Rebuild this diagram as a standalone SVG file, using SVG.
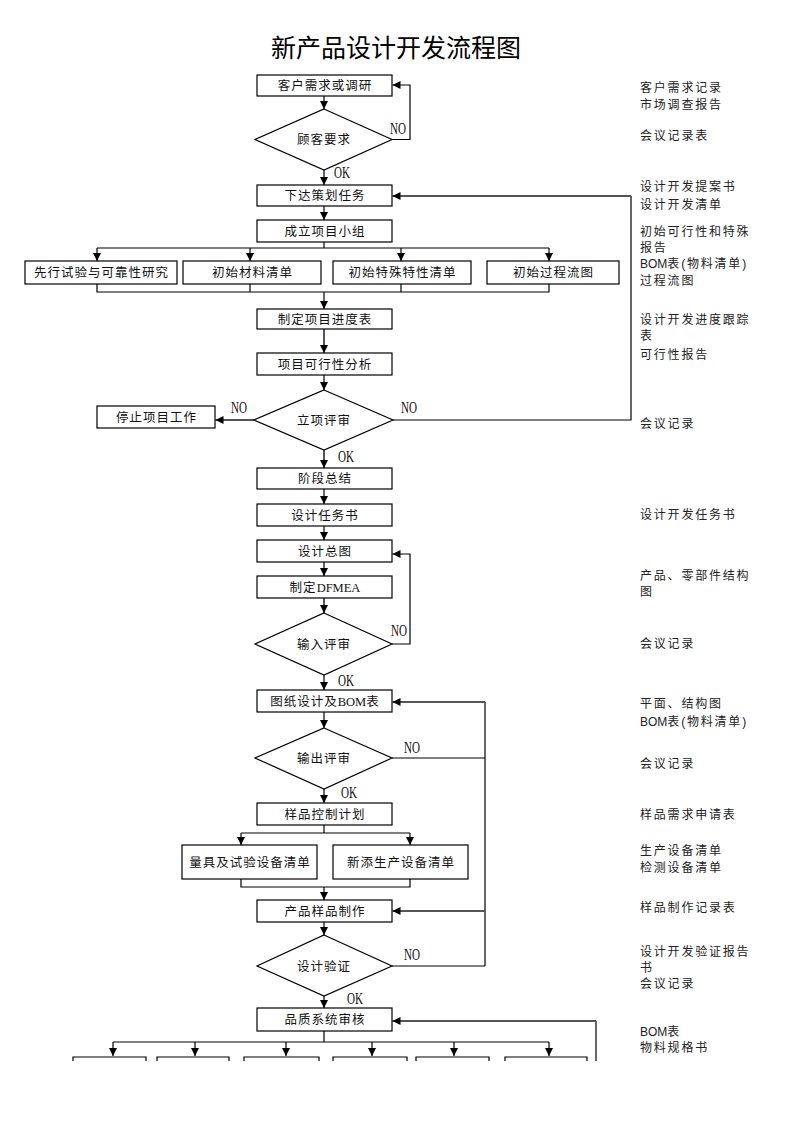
<svg xmlns="http://www.w3.org/2000/svg" width="793" height="1122" viewBox="0 0 793 1122">
<defs>
<marker id="ah" markerUnits="userSpaceOnUse" markerWidth="9" markerHeight="8" refX="8" refY="4" orient="auto">
<path d="M0,0 L8,4 L0,8 z" fill="#000"/>
</marker>
<style>
.box{fill:#fff;stroke:#000;stroke-width:1.2}
.dia{fill:#fff;stroke:#000;stroke-width:1.2}
.ln{fill:none;stroke:#000;stroke-width:1.2}
.lg{fill:none;stroke:#555;stroke-width:2}
.ar{marker-end:url(#ah)}
.t{font-family:"Noto Sans CJK SC","Liberation Serif",sans-serif;font-size:12.5px;text-anchor:middle;fill:#111;letter-spacing:1px}
.lat{font-family:"Liberation Serif",serif;letter-spacing:0}
.lab{font-family:"Liberation Serif",serif;font-size:17px;fill:#111}
.r{font-family:"Liberation Sans","Noto Sans CJK SC",sans-serif;font-size:12px;fill:#222;letter-spacing:1.8px}
.b{letter-spacing:0}
.title{font-family:"Noto Sans CJK SC",sans-serif;font-size:25px;text-anchor:middle;fill:#000}
</style>
</defs>
<rect width="793" height="1122" fill="#fff"/>
<text class="title" x="396" y="57">新产品设计开发流程图</text>

<g id="connectors">
<line class="ln ar" x1="324" y1="96" x2="324" y2="109"/>
<polyline class="ln ar" points="392,139.5 410,139.5 410,85 392.5,85"/>
<line class="ln ar" x1="324" y1="170" x2="324" y2="185"/>
<line class="ln ar" x1="324" y1="206" x2="324" y2="220"/>
<line class="ln" x1="324" y1="242" x2="324" y2="248"/>
<line class="ln" x1="97" y1="248" x2="549" y2="248"/>
<line class="ln ar" x1="97" y1="248" x2="97" y2="261"/>
<line class="ln ar" x1="250" y1="248" x2="250" y2="261"/>
<line class="ln ar" x1="401" y1="248" x2="401" y2="261"/>
<line class="ln ar" x1="549" y1="248" x2="549" y2="261"/>
<polyline class="ln" points="97,284 97,292 549,292 549,284"/>
<line class="ln" x1="250" y1="284" x2="250" y2="292"/>
<line class="ln" x1="401" y1="284" x2="401" y2="292"/>
<line class="ln ar" x1="324" y1="292" x2="324" y2="309"/>
<line class="lg ar" x1="324" y1="329" x2="324" y2="353"/>
<line class="ln ar" x1="324" y1="375" x2="324" y2="390"/>
<line class="lg ar" x1="254" y1="420" x2="215.5" y2="420"/>
<polyline class="ln" points="393,420 631,420 631,196"/>
<line class="lg ar" x1="631" y1="196" x2="392.5" y2="196"/>
<line class="lg ar" x1="324" y1="450" x2="324" y2="468"/>
<line class="ln ar" x1="324" y1="489" x2="324" y2="504"/>
<line class="ln ar" x1="324" y1="526" x2="324" y2="540"/>
<line class="ln ar" x1="324" y1="562" x2="324" y2="576"/>
<line class="lg ar" x1="324" y1="598" x2="324" y2="613"/>
<polyline class="ln ar" points="392,644 410,644 410,554 392.5,554"/>
<line class="ln ar" x1="324" y1="675" x2="324" y2="690"/>
<line class="ln ar" x1="324" y1="712" x2="324" y2="728"/>
<line class="ln" x1="392" y1="758" x2="485" y2="758"/>
<line class="ln" x1="485" y1="702" x2="485" y2="966"/>
<line class="lg ar" x1="485" y1="702" x2="392.5" y2="702"/>
<line class="lg ar" x1="485" y1="911" x2="392.5" y2="911"/>
<line class="ln" x1="392" y1="966" x2="485" y2="966"/>
<line class="ln ar" x1="324" y1="789" x2="324" y2="803"/>
<line class="ln" x1="324" y1="825" x2="324" y2="833"/>
<line class="ln" x1="241" y1="833" x2="410" y2="833"/>
<line class="ln ar" x1="241" y1="833" x2="241" y2="845"/>
<line class="ln ar" x1="410" y1="833" x2="410" y2="845"/>
<polyline class="ln" points="241,879 241,887 410,887 410,879"/>
<line class="ln ar" x1="324" y1="887" x2="324" y2="900"/>
<line class="ln ar" x1="324" y1="922" x2="324" y2="935"/>
<line class="ln ar" x1="324" y1="996" x2="324" y2="1008"/>
<line class="ln" x1="324" y1="1031" x2="324" y2="1042"/>
<line class="ln" x1="113" y1="1042" x2="549" y2="1042"/>
<line class="ln ar" x1="113" y1="1042" x2="113" y2="1056"/>
<line class="ln ar" x1="195" y1="1042" x2="195" y2="1056"/>
<line class="ln ar" x1="286" y1="1042" x2="286" y2="1056"/>
<line class="ln ar" x1="372" y1="1042" x2="372" y2="1056"/>
<line class="ln ar" x1="454" y1="1042" x2="454" y2="1056"/>
<line class="ln ar" x1="549" y1="1042" x2="549" y2="1056"/>
<line class="ln" x1="596" y1="1061" x2="596" y2="1021"/>
<line class="lg ar" x1="596" y1="1021" x2="392.5" y2="1021"/>
</g>

<g id="labels">
<text class="lab" x="390" y="134" textLength="16" lengthAdjust="spacingAndGlyphs">NO</text>
<text class="lab" x="334" y="178" textLength="16" lengthAdjust="spacingAndGlyphs">OK</text>
<text class="lab" x="231" y="413" textLength="16" lengthAdjust="spacingAndGlyphs">NO</text>
<text class="lab" x="401" y="413" textLength="16" lengthAdjust="spacingAndGlyphs">NO</text>
<text class="lab" x="338" y="462" textLength="16" lengthAdjust="spacingAndGlyphs">OK</text>
<text class="lab" x="391" y="636" textLength="16" lengthAdjust="spacingAndGlyphs">NO</text>
<text class="lab" x="338" y="686" textLength="16" lengthAdjust="spacingAndGlyphs">OK</text>
<text class="lab" x="404" y="753" textLength="16" lengthAdjust="spacingAndGlyphs">NO</text>
<text class="lab" x="341" y="798" textLength="16" lengthAdjust="spacingAndGlyphs">OK</text>
<text class="lab" x="404" y="960" textLength="16" lengthAdjust="spacingAndGlyphs">NO</text>
<text class="lab" x="347" y="1004" textLength="16" lengthAdjust="spacingAndGlyphs">OK</text>
</g>

<g id="n1"><rect class="box" x="257" y="75" width="135" height="21"/><text class="t" x="325" y="90">客户需求或调研</text></g>
<g id="d1"><polygon class="dia" points="324,109 392,139.5 324,170 255,139.5"/><text class="t" x="324" y="144">顾客要求</text></g>
<g id="n2"><rect class="box" x="257" y="185" width="135" height="21"/><text class="t" x="325" y="200">下达策划任务</text></g>
<g id="n3"><rect class="box" x="257" y="220" width="135" height="22"/><text class="t" x="325" y="235.5">成立项目小组</text></g>
<g id="n4a"><rect class="box" x="25" y="261" width="152" height="23"/><text class="t" x="101.5" y="277">先行试验与可靠性研究</text></g>
<g id="n4b"><rect class="box" x="183" y="261" width="138" height="23"/><text class="t" x="252.5" y="277">初始材料清单</text></g>
<g id="n4c"><rect class="box" x="333" y="261" width="138" height="23"/><text class="t" x="402.5" y="277">初始特殊特性清单</text></g>
<g id="n4d"><rect class="box" x="487" y="261" width="132" height="23"/><text class="t" x="553.5" y="277">初始过程流图</text></g>
<g id="n5"><rect class="box" x="257" y="309" width="135" height="20"/><text class="t" x="325" y="323.5">制定项目进度表</text></g>
<g id="n6"><rect class="box" x="257" y="353" width="135" height="22"/><text class="t" x="325" y="368.5">项目可行性分析</text></g>
<g id="d2"><polygon class="dia" points="324,390 393,420 324,450 254,420"/><text class="t" x="324" y="424.5">立项评审</text></g>
<g id="n7"><rect class="box" x="97" y="406" width="118" height="22"/><text class="t" x="156.5" y="421.5">停止项目工作</text></g>
<g id="n8"><rect class="box" x="257" y="468" width="135" height="21"/><text class="t" x="325" y="483">阶段总结</text></g>
<g id="n9"><rect class="box" x="257" y="504" width="135" height="22"/><text class="t" x="325" y="519.5">设计任务书</text></g>
<g id="n10"><rect class="box" x="257" y="540" width="135" height="22"/><text class="t" x="325" y="555.5">设计总图</text></g>
<g id="n11"><rect class="box" x="257" y="576" width="135" height="22"/><text class="t" x="325" y="591.5">制定<tspan class="lat">DFMEA</tspan></text></g>
<g id="d3"><polygon class="dia" points="324,613 392,644 324,675 255,644"/><text class="t" x="324" y="648.5">输入评审</text></g>
<g id="n12"><rect class="box" x="257" y="690" width="135" height="22"/><text class="t" x="325" y="705.5">图纸设计及<tspan class="lat">BOM</tspan>表</text></g>
<g id="d4"><polygon class="dia" points="324,728 392,758 324,789 255,758"/><text class="t" x="324" y="762.5">输出评审</text></g>
<g id="n13"><rect class="box" x="257" y="803" width="135" height="22"/><text class="t" x="325" y="818.5">样品控制计划</text></g>
<g id="n14a"><rect class="box" x="182" y="845" width="135" height="34"/><text class="t" x="250" y="866.5">量具及试验设备清单</text></g>
<g id="n14b"><rect class="box" x="333" y="845" width="135" height="34"/><text class="t" x="401" y="866.5">新添生产设备清单</text></g>
<g id="n15"><rect class="box" x="257" y="900" width="135" height="22"/><text class="t" x="325" y="915.5">产品样品制作</text></g>
<g id="d5"><polygon class="dia" points="324,935 392,966 324,996 257,966"/><text class="t" x="324" y="970.5">设计验证</text></g>
<g id="n16"><rect class="box" x="257" y="1008" width="135" height="23"/><text class="t" x="325" y="1024">品质系统审核</text></g>
<g id="b1"><polyline class="ln" points="73,1061 73,1057 146,1057 146,1061"/></g>
<g id="b2"><polyline class="ln" points="157,1061 157,1057 229,1057 229,1061"/></g>
<g id="b3"><polyline class="ln" points="244,1061 244,1057 319,1057 319,1061"/></g>
<g id="b4"><polyline class="ln" points="333,1061 333,1057 407,1057 407,1061"/></g>
<g id="b5"><polyline class="ln" points="416,1061 416,1057 489,1057 489,1061"/></g>
<g id="b6"><polyline class="ln" points="505,1061 505,1057 587,1057 587,1061"/></g>

<g id="records">
<text class="r" x="640" y="92">客户需求记录</text>
<text class="r" x="640" y="109">市场调查报告</text>
<text class="r" x="640" y="140">会议记录表</text>
<text class="r" x="640" y="191">设计开发提案书</text>
<text class="r" x="640" y="209">设计开发清单</text>
<text class="r" x="640" y="236">初始可行性和特殊</text>
<text class="r" x="640" y="252">报告</text>
<text class="r" x="640" y="268"><tspan class="b">BOM</tspan>表(物料清单)</text>
<text class="r" x="640" y="285">过程流图</text>
<text class="r" x="640" y="324">设计开发进度跟踪</text>
<text class="r" x="640" y="340">表</text>
<text class="r" x="640" y="359">可行性报告</text>
<text class="r" x="640" y="428">会议记录</text>
<text class="r" x="640" y="519">设计开发任务书</text>
<text class="r" x="640" y="580">产品、零部件结构</text>
<text class="r" x="640" y="596">图</text>
<text class="r" x="640" y="648">会议记录</text>
<text class="r" x="640" y="708">平面、结构图</text>
<text class="r" x="640" y="726"><tspan class="b">BOM</tspan>表(物料清单)</text>
<text class="r" x="640" y="768">会议记录</text>
<text class="r" x="640" y="819">样品需求申请表</text>
<text class="r" x="640" y="855">生产设备清单</text>
<text class="r" x="640" y="872">检测设备清单</text>
<text class="r" x="640" y="912">样品制作记录表</text>
<text class="r" x="640" y="956">设计开发验证报告</text>
<text class="r" x="640" y="972">书</text>
<text class="r" x="640" y="988">会议记录</text>
<text class="r" x="640" y="1036"><tspan class="b">BOM</tspan>表</text>
<text class="r" x="640" y="1052">物料规格书</text>
</g>
</svg>
